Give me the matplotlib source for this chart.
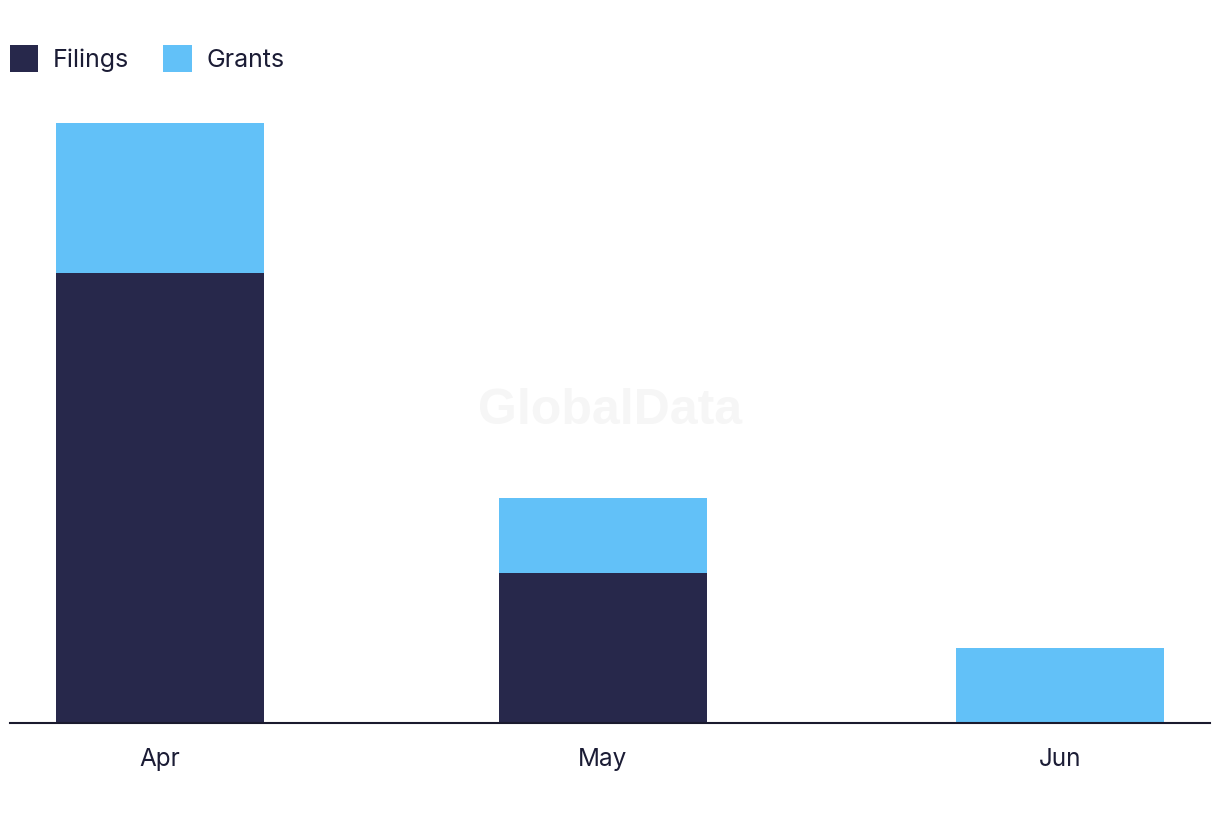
import matplotlib.pyplot as plt
import matplotlib.dates as mdates
import numpy as np
from datetime import datetime, timedelta

# data
months = [datetime(2024, 4, 1), datetime(2024, 5, 1), datetime(2024, 6, 1)]
month_labels = ['Apr', 'May', 'Jun']
filings = [6, 2, 0]
grants = [2, 1, 1]

dark = '#27284b'
light = '#62c1f8'
txt = '#1b1c35'

plt.rcParams['font.family'] = ['Inter', 'DejaVu Sans']

fig = plt.figure(figsize=(12.2, 8.22), dpi=100)
ax = fig.add_axes([10 / 1220, 99 / 822, 1200 / 1220, 623 / 822])

x = mdates.date2num(months)
w = 14.1
ax.bar(x, filings, width=w, color=dark, label='Filings', zorder=2)
ax.bar(x, grants, width=w, bottom=filings, color=light, label='Grants', zorder=2)

ax.set_xlim(x[0] - 10.18, x[-1] + 10.18)
ax.set_ylim(0, 8.3)
ax.set_xticks(x)
ax.set_xticklabels(month_labels, fontsize=17.5, color=txt)
ax.tick_params(axis='x', length=0, pad=18)
ax.set_yticks([])
for s in ['top', 'right', 'left']:
    ax.spines[s].set_visible(False)
ax.spines['bottom'].set_color('#1a1a2e')
ax.spines['bottom'].set_linewidth(1.5)

fig.text(0.5, 0.5, 'GlobalData', fontsize=36, fontweight='bold', color='#f6f6f6',
         family='Liberation Sans', ha='center', va='center', zorder=0)

leg = fig.legend(loc='upper left', bbox_to_anchor=(0.0, 0.957), ncol=2, frameon=False,
                 fontsize=18, handlelength=1.13, handleheight=1.28, columnspacing=1.35,
                 handletextpad=0.6, borderaxespad=0)
for t in leg.get_texts():
    t.set_color(txt)

fig.savefig('out.png', dpi=100)
